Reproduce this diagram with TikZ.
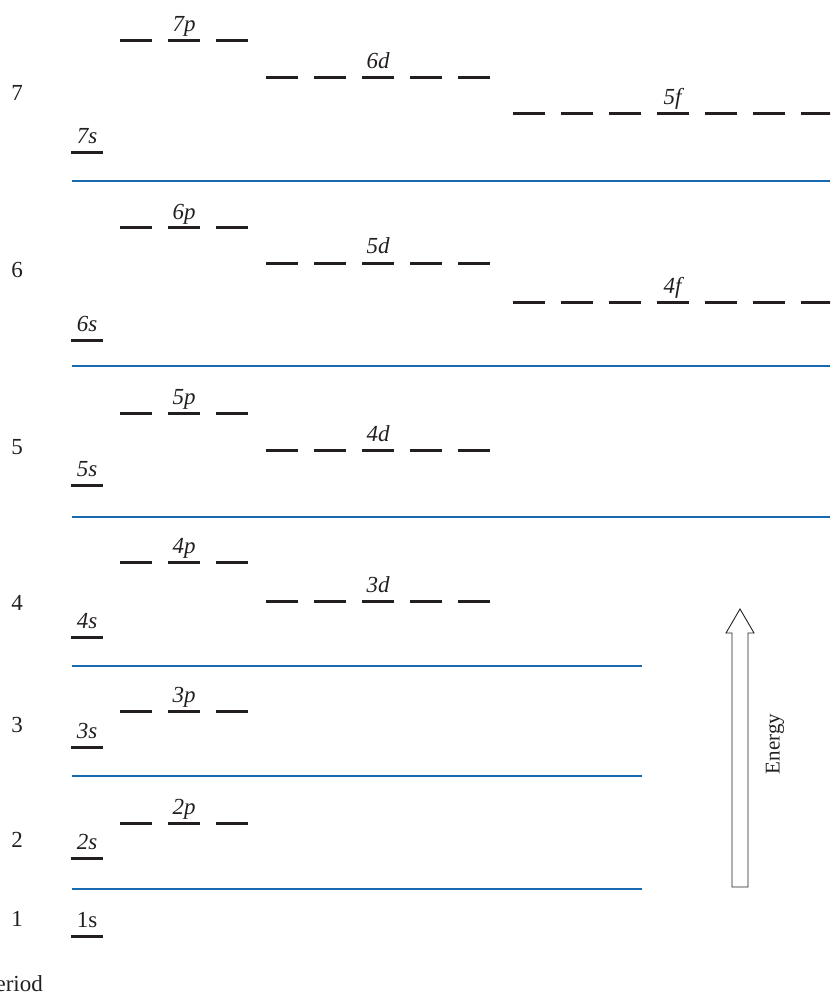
\documentclass[tikz,border=0pt]{standalone}
\usepackage{fontspec}
\setmainfont{Liberation Serif}
\definecolor{ink}{RGB}{35,31,32}
\definecolor{sepblue}{RGB}{24,106,176}
\tikzset{
  levelbar/.style={draw=ink,line width=3pt},
  orblabel/.style={anchor=base,inner sep=0pt,text=ink,font=\fontsize{23}{27}\selectfont\itshape},
  periodnum/.style={inner sep=0pt,text=ink,font=\fontsize{23}{27}\selectfont},
  shellsep/.style={draw=sepblue,line width=1.5pt},
  energyarrow/.style={draw=ink,line width=0.9pt,fill=white,line join=miter}
}
% \orbrow{name}{first bar centre x}{number of bars}{y}{bar carrying the label}{label}
\newcommand\orbrow[6]{%
  \foreach \k in {1,...,#3}{\draw[levelbar] ({#2+48*(\k-1)-16},#4) -- ++(32,0);}
  \node[orblabel] (#1) at ({#2+48*(#5-1)},{#4-9}) {#6};
}
\begin{document}
\begin{tikzpicture}[x=1pt,y=-1pt]
\useasboundingbox (0,0) rectangle (830,992);
\clip (0,0) rectangle (830,992);

% period 7
\orbrow{o7s}{87}{1}{153}{1}{7s}
\orbrow{o7p}{136}{3}{41}{2}{7p}
\orbrow{o6d}{282}{5}{78}{3}{6d}
\orbrow{o5f}{528.5}{7}{114}{4}{5f}
% period 6
\orbrow{o6s}{87}{1}{340}{1}{6s}
\orbrow{o6p}{136}{3}{228}{2}{6p}
\orbrow{o5d}{282}{5}{263}{3}{5d}
\orbrow{o4f}{528.5}{7}{302}{4}{4f}
% period 5
\orbrow{o5s}{87}{1}{485}{1}{5s}
\orbrow{o5p}{136}{3}{413}{2}{5p}
\orbrow{o4d}{282}{5}{450}{3}{4d}
% period 4
\orbrow{o4s}{87}{1}{637}{1}{4s}
\orbrow{o4p}{136}{3}{562}{2}{4p}
\orbrow{o3d}{282}{5}{601}{3}{3d}
% period 3
\orbrow{o3s}{87}{1}{747}{1}{3s}
\orbrow{o3p}{136}{3}{711}{2}{3p}
% period 2
\orbrow{o2s}{87}{1}{858}{1}{2s}
\orbrow{o2p}{136}{3}{823}{2}{2p}
% period 1
\orbrow{o1s}{87}{1}{936}{1}{\upshape 1s}

% separators between periods
\foreach \y in {181,366,517}{\draw[shellsep] (72,\y) -- (830,\y);}
\foreach \y in {666,776,889}{\draw[shellsep] (72,\y) -- (642,\y);}

% period numbers
\node[periodnum] (per7) at (17,93) {7};
\node[periodnum] (per6) at (17,270) {6};
\node[periodnum] (per5) at (17,447) {5};
\node[periodnum] (per4) at (17,603) {4};
\node[periodnum] (per3) at (17,725) {3};
\node[periodnum] (per2) at (17,840) {2};
\node[periodnum] (per1) at (17,919) {1};
\node[periodnum,anchor=base east] (perlabel) at (43,991) {Period};

% energy arrow
\draw[energyarrow] (732,887) -- (732,633) -- (726,633) -- (740,609)
  -- (754,633) -- (748,633) -- (748,887) -- cycle;
\node[inner sep=0pt,text=ink,rotate=90,font=\fontsize{21}{25}\selectfont] (energy) at (775,744) {Energy};
\end{tikzpicture}
\end{document}
